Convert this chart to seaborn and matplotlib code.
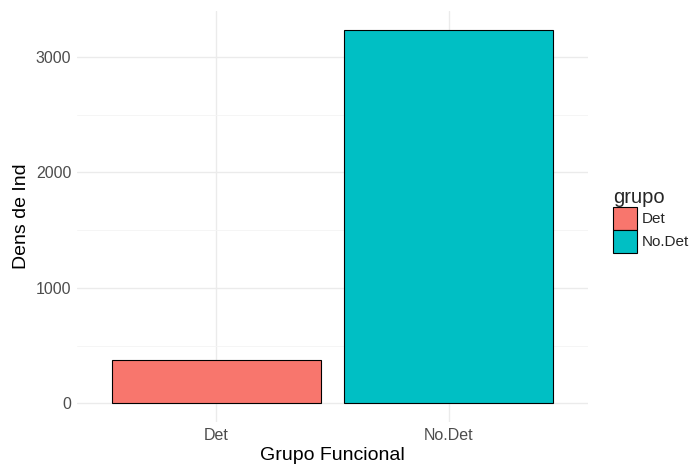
import matplotlib
matplotlib.use('Agg')
import matplotlib.pyplot as plt
from matplotlib.patches import Patch
from matplotlib.ticker import MultipleLocator
import seaborn as sns
import pandas as pd

grupos = ['Det', 'No.Det']
dens = [375, 3232]
colores = ['#F8766D', '#00BFC4']

df = pd.DataFrame({'grupo': grupos, 'dens': dens})

sns.set_theme(style='white')
plt.rcParams['font.family'] = ['Liberation Sans', 'DejaVu Sans']

fig = plt.figure(figsize=(6.93, 4.68), dpi=100)
ax = fig.add_axes([0.111, 0.098, 0.7375, 0.878])

sns.barplot(data=df, x='grupo', y='dens', hue='grupo', palette=colores, saturation=1,
            width=0.9, edgecolor='black', linewidth=0.8, legend=False, ax=ax)

ax.set_xlim(-0.6, 1.6)
ax.set_ylim(-0.05 * max(dens), 1.05 * max(dens))
ax.yaxis.set_major_locator(MultipleLocator(1000))
ax.yaxis.set_minor_locator(MultipleLocator(500))
ax.grid(True, which='major', color='#EBEBEB', linewidth=1.0)
ax.grid(True, which='minor', axis='y', color='#F4F4F4', linewidth=0.6)
ax.set_axisbelow(True)
for s in ax.spines.values():
    s.set_visible(False)
ax.tick_params(axis='both', which='both', length=0, labelsize=11.5, labelcolor='#4D4D4D', pad=4)
ax.set_xlabel('Grupo Funcional', fontsize=14, color='black', labelpad=3)
ax.set_ylabel('Dens de Ind', fontsize=14, color='black', labelpad=4)

handles = [Patch(facecolor=c, edgecolor='black', linewidth=0.8, label=g) for g, c in zip(grupos, colores)]
leg = fig.legend(handles=handles, title='grupo', loc='upper left', bbox_to_anchor=(0.876, 0.612),
                 frameon=False, fontsize=11, title_fontsize=14.5, handlelength=1.55, handleheight=1.95,
                 handletextpad=0.35, labelspacing=0.0, borderaxespad=0)
leg._legend_box.align = 'left'

fig.savefig('out.png', dpi=100, facecolor='white')
